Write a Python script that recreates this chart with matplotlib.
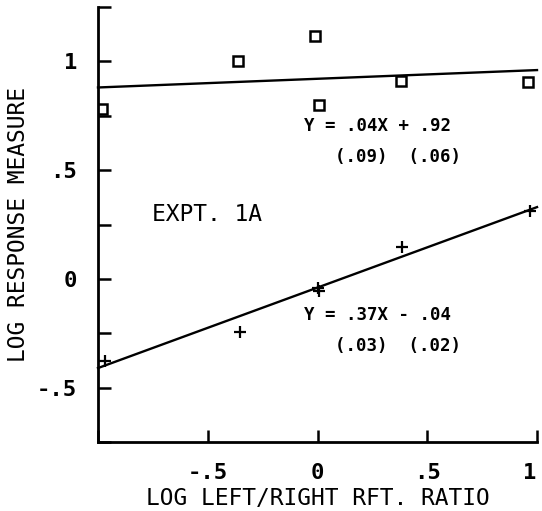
import matplotlib
matplotlib.use("Agg")
import matplotlib.pyplot as plt
import matplotlib.transforms as mtransforms
import numpy as np

# data
sq_x = [-0.98, -0.36, -0.01, 0.005, 0.38, 0.96]
sq_y = [0.78, 1.00, 1.115, 0.80, 0.91, 0.905]
plus_x = [-0.97, -0.355, 0.0, 0.005, 0.386, 0.97]
plus_y = [-0.378, -0.245, -0.04, -0.055, 0.147, 0.313]

# fitted lines: slope, intercept
fit_sq = (0.04, 0.92)
fit_plus = (0.37, -0.04)

xticks = [-1, -0.5, 0, 0.5, 1]
xticklabels = ["", "-.5", "0", ".5", "1"]
yticks = [-0.75, -0.5, -0.25, 0, 0.25, 0.5, 0.75, 1, 1.25]
yticklabels = ["", "-.5", "", "0", "", ".5", "", "1", ""]

plt.rcParams["font.family"] = ["DejaVu Sans Mono"]

fig = plt.figure(figsize=(5.42, 5.11), dpi=100)
ax = fig.add_axes([0.1808, 0.135, 0.81, 0.8513])

xs = np.array([-1.0, 1.0])
ax.plot(xs, fit_sq[0] * xs + fit_sq[1], color="black", lw=1.7, clip_on=False)
ax.plot(xs, fit_plus[0] * xs + fit_plus[1], color="black", lw=1.7, clip_on=False)

ax.plot(sq_x, sq_y, ls="none", marker="s", ms=7.5, mfc="white", mec="black", mew=1.8)
ax.plot(plus_x, plus_y, ls="none", marker="+", ms=9, mec="black", mew=1.6)

ax.text(-0.755, 0.295, "EXPT. 1A", fontsize=16.5, va="center", ha="left")
ax.text(-0.06, 0.705, "Y = .04X + .92", fontsize=12.5, fontweight="bold", va="center")
ax.text(0.08, 0.56, "(.09)  (.06)", fontsize=12.5, fontweight="bold", va="center")
ax.text(-0.06, -0.166, "Y = .37X - .04", fontsize=12.5, fontweight="bold", va="center")
ax.text(0.08, -0.31, "(.03)  (.02)", fontsize=12.5, fontweight="bold", va="center")

ax.set_xlim(-1, 1)
ax.set_ylim(-0.75, 1.25)
ax.set_xticks(xticks)
ax.set_xticklabels(xticklabels)
ax.set_yticks(yticks)
ax.set_yticklabels(yticklabels)
ax.tick_params(direction="in", length=9, width=1.8, labelsize=16, pad=15)
for lab in ax.get_xticklabels() + ax.get_yticklabels():
    lab.set_fontweight("bold")

# last x label sits right at the figure edge; nudge it in a little
last = ax.get_xticklabels()[-1]
last.set_transform(last.get_transform() + mtransforms.ScaledTranslation(-5 / 72, 0, fig.dpi_scale_trans))

for s in ["top", "right"]:
    ax.spines[s].set_visible(False)
for s in ["left", "bottom"]:
    ax.spines[s].set_linewidth(2)

ax.set_xlabel("LOG LEFT/RIGHT RFT. RATIO", fontsize=16.5, labelpad=3)
ax.set_ylabel("LOG RESPONSE MEASURE", fontsize=16.5, labelpad=5)

fig.savefig("out.png", dpi=100)
